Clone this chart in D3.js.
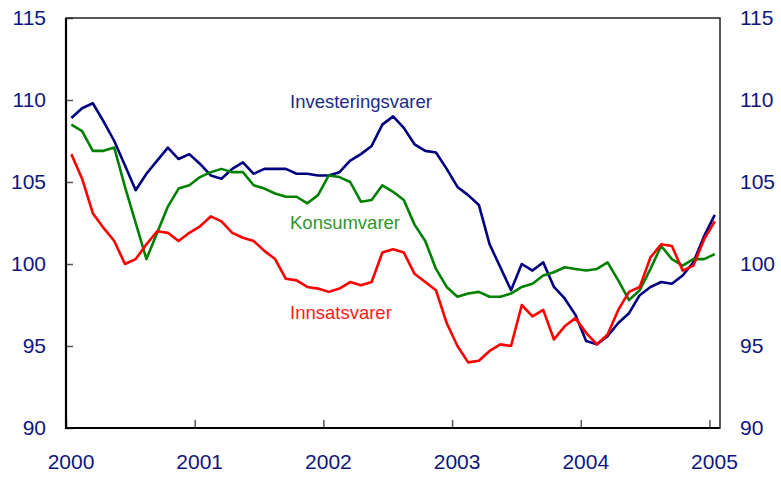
<!DOCTYPE html>
<html>
<head>
<meta charset="utf-8">
<style>
  body { margin: 0; background: #fff; }
  svg { display: block; font-family: "Liberation Sans", Arial, sans-serif; }
</style>
</head>
<body>
<svg id="chart" width="781" height="477"></svg>
<script src="https://d3js.org/d3.v7.min.js"></script>
<script>
  // monthly index, Jan 2000 - Jan 2005
  const startYear = 2000;
  const yearTicks = [2000, 2001, 2002, 2003, 2004, 2005];
  const valueTicks = [90, 95, 100, 105, 110, 115];

  const investering = [108.9, 109.5, 109.8, 108.7, 107.5, 106.0, 104.5, 105.5, 106.3, 107.1, 106.4, 106.7,
    106.1, 105.4, 105.2, 105.8, 106.2, 105.5, 105.8, 105.8, 105.8, 105.5, 105.5, 105.4,
    105.4, 105.6, 106.3, 106.7, 107.2, 108.5, 109.0, 108.3, 107.3, 106.9, 106.8, 105.8,
    104.7, 104.2, 103.6, 101.2, 99.8, 98.4, 100.0, 99.6, 100.1, 98.6, 97.9, 96.9,
    95.3, 95.1, 95.6, 96.4, 97.0, 98.1, 98.6, 98.9, 98.8, 99.3, 100.1, 101.7, 103.0];

  const konsum = [108.5, 108.1, 106.9, 106.9, 107.1, 104.7, 102.5, 100.3, 101.9, 103.5, 104.6, 104.8,
    105.3, 105.6, 105.8, 105.6, 105.6, 104.8, 104.6, 104.3, 104.1, 104.1, 103.7, 104.2,
    105.4, 105.3, 105.0, 103.8, 103.9, 104.8, 104.4, 103.9, 102.4, 101.4, 99.7, 98.6,
    98.0, 98.2, 98.3, 98.0, 98.0, 98.2, 98.6, 98.8, 99.3, 99.5, 99.8, 99.7,
    99.6, 99.7, 100.1, 99.0, 97.8, 98.4, 99.7, 101.1, 100.3, 99.9, 100.3, 100.3, 100.6];

  const innsats = [106.7, 105.2, 103.1, 102.2, 101.4, 100.0, 100.3, 101.2, 102.0, 101.9, 101.4, 101.9,
    102.3, 102.9, 102.6, 101.9, 101.6, 101.4, 100.8, 100.3, 99.1, 99.0, 98.6, 98.5,
    98.3, 98.5, 98.9, 98.7, 98.9, 100.7, 100.9, 100.7, 99.4, 98.9, 98.4, 96.4,
    95.0, 94.0, 94.1, 94.7, 95.1, 95.0, 97.5, 96.8, 97.2, 95.4, 96.2, 96.7,
    95.8, 95.1, 95.7, 97.2, 98.3, 98.6, 100.4, 101.2, 101.1, 99.6, 99.9, 101.5, 102.6];

  const series = [
    { name: "Investeringsvarer", values: investering, color: "#000080", labelColor: "#1c2a88", lx: 290, ly: 108 },
    { name: "Konsumvarer", values: konsum, color: "#008000", labelColor: "#2f952f", lx: 290, ly: 229 },
    { name: "Innsatsvarer", values: innsats, color: "#ff0000", labelColor: "#ff1a1a", lx: 290, ly: 319 }
  ];

  const margin = { left: 66, right: 61, top: 18, bottom: 49 };
  const width = 781, height = 477;
  const svg = d3.select("#chart");

  const x = d3.scaleLinear()
    .domain([2000, 2005.082])
    .range([margin.left, width - margin.right]);
  const y = d3.scaleLinear()
    .domain([90, 115])
    .range([height - margin.bottom, margin.top]);

  const tickColor = "#0d1580";

  // left axis
  const left = svg.append("g")
    .attr("transform", `translate(${margin.left},0)`)
    .call(d3.axisLeft(y).tickValues(valueTicks).tickSize(-7).tickPadding(20));
  // right axis (labels only)
  const right = svg.append("g")
    .attr("transform", `translate(${width - margin.right},0)`)
    .call(d3.axisRight(y).tickValues(valueTicks).tickSize(0).tickPadding(20));
  // bottom axis
  const bottom = svg.append("g")
    .attr("transform", `translate(0,${height - margin.bottom})`)
    .call(d3.axisBottom(x).tickValues(yearTicks).tickFormat(d3.format("d")).tickSize(-8).tickPadding(26));

  [left, right, bottom].forEach(g => {
    g.select(".domain").remove();
    g.selectAll("text")
      .attr("fill", tickColor)
      .attr("font-size", 21)
      .attr("font-family", "Liberation Sans, Arial, sans-serif");
    g.selectAll("line").attr("stroke", "#555").attr("stroke-width", 1.5);
  });
  bottom.selectAll("text").attr("dx", 4.5);

  // frame
  svg.append("rect")
    .attr("x", margin.left)
    .attr("y", margin.top)
    .attr("width", width - margin.right - margin.left)
    .attr("height", height - margin.bottom - margin.top)
    .attr("fill", "none")
    .attr("stroke", "#222")
    .attr("stroke-width", 1.5);
  svg.append("line")
    .attr("x1", margin.left).attr("x2", margin.left)
    .attr("y1", margin.top).attr("y2", height - margin.bottom + 1)
    .attr("stroke", "#000").attr("stroke-width", 2.2);
  svg.append("line")
    .attr("x1", margin.left - 1).attr("x2", width - margin.right)
    .attr("y1", height - margin.bottom).attr("y2", height - margin.bottom)
    .attr("stroke", "#000").attr("stroke-width", 2.2);

  const monthX = i => startYear + (i + 0.5) / 12;
  const line = d3.line()
    .x((d, i) => x(monthX(i)))
    .y(d => y(d));

  svg.append("g")
    .selectAll("path")
    .data(series)
    .join("path")
    .attr("fill", "none")
    .attr("stroke", d => d.color)
    .attr("stroke-width", 2.6)
    .attr("stroke-linejoin", "round")
    .attr("d", d => line(d.values));

  svg.append("g")
    .selectAll("text")
    .data(series)
    .join("text")
    .attr("x", d => d.lx)
    .attr("y", d => d.ly)
    .attr("font-size", 18.5)
    .attr("fill", d => d.labelColor)
    .text(d => d.name);
</script>
</body>
</html>
